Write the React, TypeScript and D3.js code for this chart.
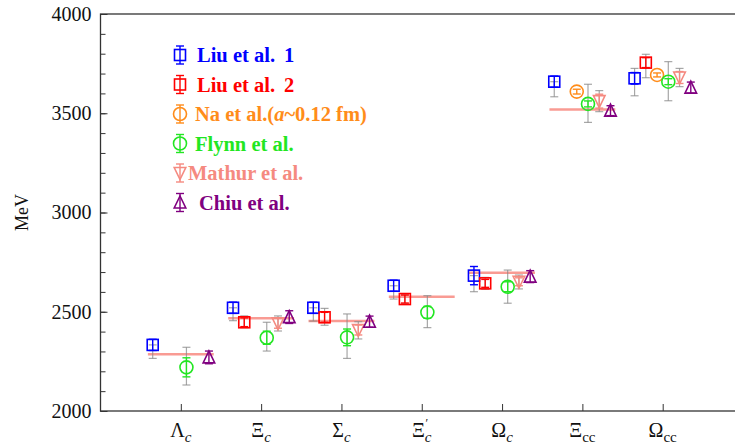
import React, { useEffect, useRef } from 'react'
import * as d3 from 'd3'

// categories along the x axis
const catSymbols = ['Λ', 'Ξ', 'Σ', 'Ξ', 'Ω', 'Ξ', 'Ω']
const catSubs = ['c', 'c', 'c', 'c', 'c', 'cc', 'cc']
const catPrime = [false, false, false, true, false, false, false]

// experimental masses (horizontal lines)
const expMass = [2286, 2467, 2453, 2576, 2697, 3519, null]

// Liu et al. 1
const liu1Mass = [2333, 2520, 2520, 2631, 2682, 3659, 3676]
const liu1Err = [28, 28, 28, 28, 46, 28, 29]
const liu1GrayLo = [68, 65, 67, 67, 81, 76, 88]
const liu1GrayHi = [0, 0, 0, 0, 0, 0, 50]

// Liu et al. 2
const liu2Mass = [null, 2447, 2472, 2564, 2643, null, 3755]
const liu2Err = [0, 22, 25, 20, 20, 0, 25]
const liu2GrayLo = [0, 27, 40, 23, 30, 0, 76]
const liu2GrayHi = [0, 32, 45, 24, 30, 0, 42]

// Na et al.
const naMass = [null, null, null, null, null, 3609, 3693]
const naErr = [0, 0, 0, 0, 0, 12, 10]

// Flynn et al.
const flynnMass = [2220, 2369, 2371, 2497, 2626, 3547, 3659]
const flynnErr = [48, 33, 42, 30, 25, 15, 15]
const flynnGrayLo = [89, 67, 106, 77, 83, 93, 96]
const flynnGrayHi = [101, 78, 118, 84, 84, 99, 101]

// Mathur et al.
const mathurMass = [null, 2442, 2408, null, 2651, 3561, 3680]
const mathurErr = [0, 25, 25, 0, 20, 35, 30]
const mathurGrayLo = [0, 39, 45, 0, 36, 53, 46]
const mathurGrayHi = [0, 37, 42, 0, 34, 53, 46]

// Chiu et al.
const chiuMass = [2270, 2473, 2450, null, 2677, 3513, 3629]
const chiuErr = [32, 32, 28, 0, 30, 25, 28]

const zeros = [0, 0, 0, 0, 0, 0, 0]

const series = [
  { name: 'Liu et al. 1', color: '#0000ff', shape: 'square', mass: liu1Mass, err: liu1Err, lo: liu1GrayLo, hi: liu1GrayHi },
  { name: 'Liu et al. 2', color: '#ff0000', shape: 'square', mass: liu2Mass, err: liu2Err, lo: liu2GrayLo, hi: liu2GrayHi },
  { name: 'Na et al.', color: '#ff8c1a', shape: 'circle', mass: naMass, err: naErr, lo: zeros, hi: zeros },
  { name: 'Flynn et al.', color: '#22e622', shape: 'circle', mass: flynnMass, err: flynnErr, lo: flynnGrayLo, hi: flynnGrayHi },
  { name: 'Mathur et al.', color: '#f58a80', shape: 'down', mass: mathurMass, err: mathurErr, lo: mathurGrayLo, hi: mathurGrayHi },
  { name: 'Chiu et al.', color: '#800080', shape: 'up', mass: chiuMass, err: chiuErr, lo: zeros, hi: zeros },
]

const offsets = [-0.35, -0.21, -0.07, 0.07, 0.21, 0.35]
// legend text starts (the original's gaps are uneven)
const legendTextX = [197, 197, 195, 195, 188, 199]

const FONT = '"Liberation Serif", "DejaVu Serif", serif'

const drawMarker = (g, shape, cx, cy, color) => {
  const sw = 1.6
  if (shape === 'square') {
    g.append('rect').attr('x', cx - 5.5).attr('y', cy - 5.5).attr('width', 11).attr('height', 11)
      .attr('fill', 'none').attr('stroke', color).attr('stroke-width', sw)
  } else if (shape === 'circle') {
    g.append('circle').attr('cx', cx).attr('cy', cy).attr('r', 6.5)
      .attr('fill', 'none').attr('stroke', color).attr('stroke-width', sw)
  } else {
    const s = shape === 'up' ? 1 : -1
    const p = d3.path()
    p.moveTo(cx, cy - s * 6.5)
    p.lineTo(cx + 5.8, cy + s * 5.5)
    p.lineTo(cx - 5.8, cy + s * 5.5)
    p.closePath()
    g.append('path').attr('d', p.toString())
      .attr('fill', 'none').attr('stroke', color).attr('stroke-width', sw)
  }
}

const drawBar = (g, cx, y1, y2, color, width, opacity) => {
  g.append('line').attr('x1', cx).attr('x2', cx).attr('y1', y1).attr('y2', y2)
    .attr('stroke', color).attr('stroke-width', width).attr('opacity', opacity)
  ;[y1, y2].forEach(yy => {
    g.append('line').attr('x1', cx - 4).attr('x2', cx + 4).attr('y1', yy).attr('y2', yy)
      .attr('stroke', color).attr('stroke-width', width).attr('opacity', opacity)
  })
}

const Chart = () => {
  const ref = useRef(null)

  useEffect(() => {
    const svg = d3.select(ref.current)
    svg.selectAll('*').remove()

    const x = d3.scaleLinear().domain([0, 8]).range([100.5, 743])
    const y = d3.scaleLinear().domain([2000, 4000]).range([411, 14])

    // frame
    svg.append('rect')
      .attr('x', x(0)).attr('y', y(4000))
      .attr('width', x(8) - x(0)).attr('height', y(2000) - y(4000))
      .attr('fill', 'none').attr('stroke', '#333').attr('stroke-width', 1.3)

    // y axis: major and minor ticks, inward
    svg.append('g')
      .attr('transform', `translate(${x(0)},0)`)
      .call(d3.axisLeft(y).tickValues(d3.range(2000, 4001, 500)).tickSizeInner(-7).tickSizeOuter(0).tickPadding(9).tickFormat(d3.format('d')))
      .call(g => g.select('.domain').remove())
      .call(g => g.selectAll('line').attr('stroke', '#333'))
      .call(g => g.selectAll('text').attr('font-family', FONT).attr('font-size', 20).attr('fill', '#111'))
    svg.append('g')
      .attr('transform', `translate(${x(0)},0)`)
      .call(d3.axisLeft(y).tickValues(d3.range(2000, 4001, 100)).tickSizeInner(-5).tickSizeOuter(0).tickFormat(() => ''))
      .call(g => g.select('.domain').remove())
      .call(g => g.selectAll('line').attr('stroke', '#333'))

    // x axis ticks, inward
    svg.append('g')
      .attr('transform', `translate(0,${y(2000)})`)
      .call(d3.axisBottom(x).tickValues(d3.range(1, 8)).tickSizeInner(-7).tickSizeOuter(0).tickFormat(() => ''))
      .call(g => g.select('.domain').remove())
      .call(g => g.selectAll('line').attr('stroke', '#333'))

    // category labels
    catSymbols.forEach((sym, i) => {
      const t = svg.append('text')
        .attr('x', x(i + 1)).attr('y', 437)
        .attr('text-anchor', 'middle')
        .attr('font-family', FONT).attr('font-size', 20).attr('fill', '#111')
      t.append('tspan').text(sym)
      t.append('tspan').attr('dy', 5).attr('font-size', 15)
        .attr('font-style', catSubs[i] === 'c' ? 'italic' : 'normal').text(catSubs[i])
      if (catPrime[i]) {
        t.append('tspan').attr('dx', -6).attr('dy', -15).attr('font-size', 12).text('′')
      }
    })

    // y label
    svg.append('text')
      .attr('transform', `translate(28,${y(3000)}) rotate(-90)`)
      .attr('text-anchor', 'middle')
      .attr('font-family', FONT).attr('font-size', 18).attr('fill', '#111')
      .text('MeV')

    // experimental lines
    expMass.forEach((m, i) => {
      if (m === null) return
      svg.append('line')
        .attr('x1', x(i + 1 - 0.41)).attr('x2', x(i + 1 + 0.41))
        .attr('y1', y(m)).attr('y2', y(m))
        .attr('stroke', '#f77a70').attr('stroke-width', 2.5).attr('opacity', 0.75)
    })

    const pts = svg.append('g')
    // gray (total) error bars
    series.forEach((s, si) => {
      s.mass.forEach((m, i) => {
        if (m === null || (s.lo[i] === 0 && s.hi[i] === 0)) return
        const cx = x(i + 1 + offsets[si])
        drawBar(pts, cx, y(m + s.hi[i]), y(m - s.lo[i]), '#8a8a8a', 1.2, 0.75)
      })
    })
    // markers and statistical error bars
    series.forEach((s, si) => {
      s.mass.forEach((m, i) => {
        if (m === null) return
        const cx = x(i + 1 + offsets[si])
        drawMarker(pts, s.shape, cx, y(m), s.color)
        drawBar(pts, cx, y(m + s.err[i]), y(m - s.err[i]), s.color, 1.4, 1)
      })
    })

    // legend
    const legend = svg.append('g')
    series.forEach((s, i) => {
      const ly = 55 + i * 29.5
      drawMarker(legend, s.shape, 180, ly, s.color)
      drawBar(legend, 180, ly - 9, ly + 9, s.color, 1.4, 1)
      const t = legend.append('text')
        .attr('x', legendTextX[i]).attr('y', ly + 7)
        .attr('font-family', FONT).attr('font-size', 20.5).attr('font-weight', 'bold')
        .attr('fill', s.color)
      if (s.name === 'Na et al.') {
        t.append('tspan').text('Na et al.(')
        t.append('tspan').attr('font-style', 'italic').text('a')
        t.append('tspan').text('~0.12 fm)')
      } else if (s.name.startsWith('Liu')) {
        t.append('tspan').text('Liu et al.')
        t.append('tspan').attr('dx', 9).text(s.name.slice(-1))
      } else {
        t.text(s.name)
      }
    })
  }, [])

  return (
    <svg ref={ref} width={735} height={447}
      style={{ position: 'absolute', left: 0, top: 0, background: '#fff' }} />
  )
}

export default function App() {
  return <Chart />
}
